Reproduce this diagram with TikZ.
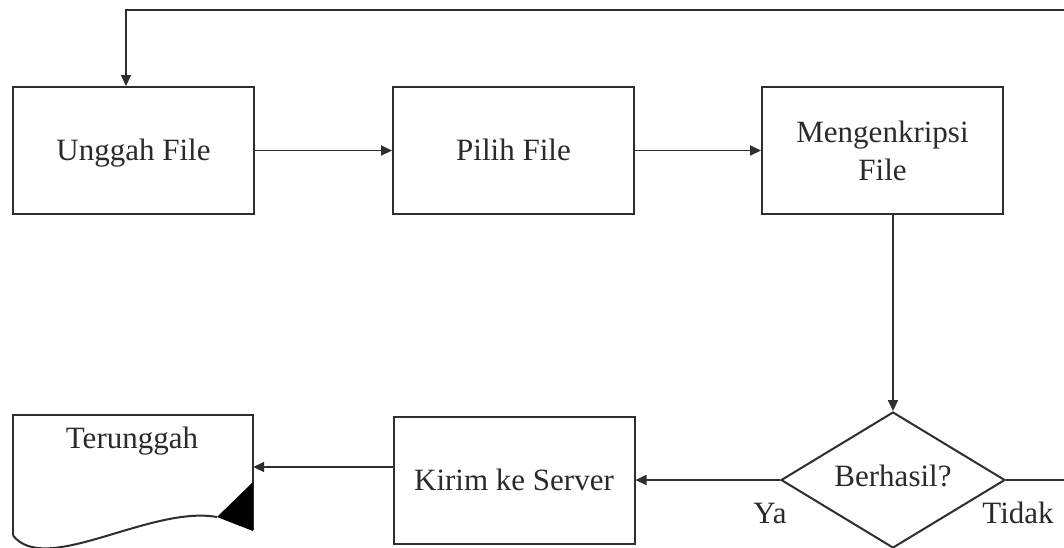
\documentclass[tikz,border=0pt]{standalone}
\usepackage{fontspec}
\setmainfont{Liberation Serif}
\usetikzlibrary{shapes.geometric,arrows.meta,calc}
\definecolor{ln}{HTML}{2E2E2E}
\definecolor{tx}{HTML}{2A2A2A}
\begin{document}
\begin{tikzpicture}[x=1pt,y=-1pt,
  every node/.style={font=\fontsize{31}{38}\selectfont,text=tx},
  proc/.style={draw=ln,line width=2pt,rectangle,minimum width=241pt,minimum height=127pt,inner sep=0pt,align=center},
  one/.style={text height=24pt,text depth=4pt},
  dec/.style={draw=ln,line width=2pt,diamond,minimum width=224pt,minimum height=136pt,inner sep=0pt,aspect=1.65},
  conn/.style={draw=ln,line width=1.8pt},
  arr/.style={conn,-{Triangle[length=11pt,width=10pt]}},
  lbl/.style={inner sep=0pt,text height=21pt,text depth=7pt}]
\clip (0,0) rectangle (1064,547);
\fill[white] (0,0) rectangle (1064,547);

\node[proc,one] (unggah) at (133.5,150.5) {Unggah File};
\node[proc,one] (pilih) at (513.5,150.5) {Pilih File};
\node[proc] (enkrip) at (882.5,150.5) {Mengenkripsi\\File};
\node[dec] (dia) at (893,480) {};
\node[lbl] (berhasil) at (893,479) {Berhasil?};
\node[proc,one] (kirim) at (514,480) {Kirim ke Server};
\node[rectangle,minimum width=240pt,minimum height=120pt,inner sep=0pt] (teru) at (133,475) {};
\node[lbl] (terutxt) at (132,441) {Terunggah};
\node[lbl] (ya) at (770,516) {Ya};
\node[lbl] (tidak) at (1018,516) {Tidak};

% document shape
\draw[ln,line width=2pt] (teru.south west) -- (teru.north west) -- (teru.north east) -- (teru.east |- 0,530);
\draw[ln,line width=2pt] (teru.south west) .. controls (45,577) and (150,505) .. (217,517);
\fill[black] (253,482) -- (217,517) -- (253,531) -- cycle;

% connectors
\coordinate (topR) at (1064,10);
\coordinate (topL) at (126,10);
\coordinate (tidakR) at (1064,480);
\draw[arr] (topR) -- (topL) -- (topL |- unggah.north);
\draw[arr] (unggah.east) -- (pilih.west);
\draw[arr] (pilih.east) -- (enkrip.west);
\draw[arr] (dia.north |- enkrip.south) -- (dia.north);
\draw[arr] (dia.west) -- (kirim.east);
\coordinate (kOut) at ($(kirim.west)+(0,-13)$);
\draw[arr] (kOut) -- (kOut -| teru.east);
\draw[conn] (dia.east) -- (tidakR);
\end{tikzpicture}
\end{document}
